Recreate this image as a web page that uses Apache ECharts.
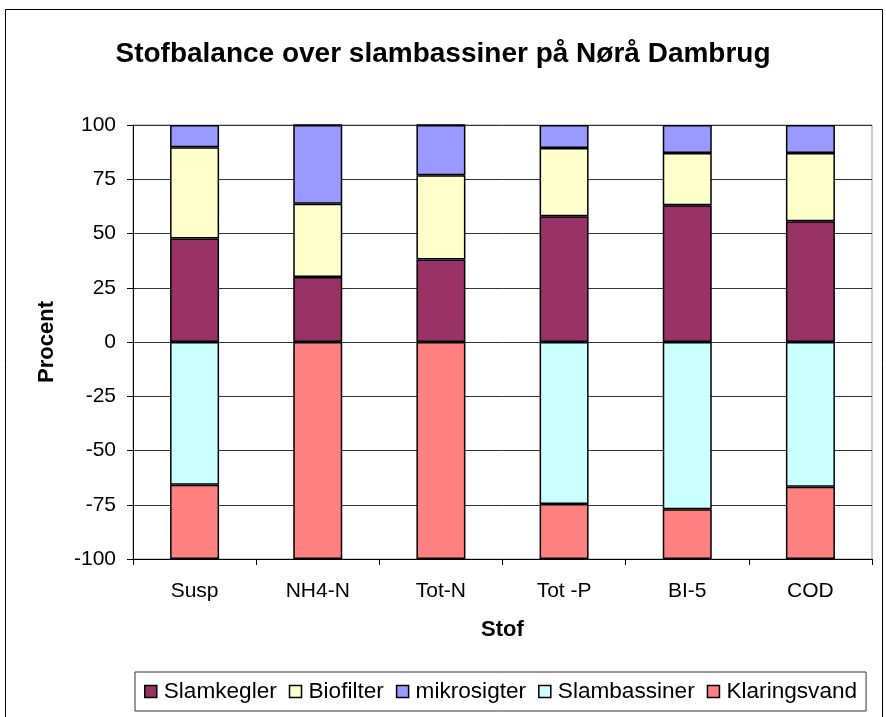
<!DOCTYPE html>
<html>
<head>
<meta charset="utf-8">
<script src="https://cdn.jsdelivr.net/npm/echarts@6/dist/echarts.min.js"></script>
<style>
  html, body { margin: 0; padding: 0; background: #fff; }
  #chart { width: 886px; height: 717px; }
</style>
</head>
<body>
<div id="chart"></div>
<script>
  // data
  const categories = ['Susp', 'NH4-N', 'Tot-N', 'Tot -P', 'BI-5', 'COD'];
  const slamkegler = [47.7, 30.0, 38.0, 58.0, 63.0, 55.6];
  const biofilter = [42.0, 33.7, 38.8, 31.4, 24.1, 31.5];
  const mikrosigter = [10.3, 36.3, 23.2, 10.6, 12.9, 12.9];
  const slambassiner = [-65.8, 0, 0, -74.7, -77.1, -66.7];
  const klaringsvand = [-34.2, -100, -100, -25.3, -22.9, -33.3];
  const yTicks = [-100, -75, -50, -25, 0, 25, 50, 75, 100];

  const font = 'Liberation Sans, Arial, sans-serif';

  function bar(name, data, color) {
    return {
      name: name,
      type: 'bar',
      stack: 'tot',
      barWidth: 49,
      data: data,
      itemStyle: { color: color, borderColor: '#000', borderWidth: 1.5 },
    };
  }

  const chart = echarts.init(document.getElementById('chart'));
  chart.setOption({
    animation: false,
    backgroundColor: '#fff',
    textStyle: { fontFamily: font, color: '#000' },
    graphic: [
      {
        type: 'rect',
        shape: { x: 5.5, y: 9.5, width: 877, height: 730 },
        style: { fill: 'none', stroke: '#000', lineWidth: 1 },
        silent: true,
      },
    ],
    title: {
      text: 'Stofbalance over slambassiner på Nørå Dambrug',
      left: 'center',
      top: 35,
      textStyle: { fontFamily: font, fontSize: 28, fontWeight: 'bold', color: '#000' },
    },
    grid: {
      left: 133,
      right: 14,
      top: 125,
      bottom: 158,
      show: true,
      borderColor: '#999',
      borderWidth: 1,
      containLabel: false,
    },
    legend: {
      left: 135,
      top: 672,
      padding: [8, 9, 8, 9],
      itemGap: 12,
      itemWidth: 12,
      itemHeight: 12,
      borderColor: '#333',
      borderWidth: 1,
      icon: 'rect',
      textStyle: { fontFamily: font, fontSize: 22.6, color: '#000', padding: [0, 0, 0, 2] },
      itemStyle: { borderColor: '#000', borderWidth: 1.5 },
      data: ['Slamkegler', 'Biofilter', 'mikrosigter', 'Slambassiner', 'Klaringsvand'],
    },
    xAxis: {
      type: 'category',
      data: categories,
      name: 'Stof',
      nameLocation: 'middle',
      nameGap: 60,
      nameTextStyle: { fontFamily: font, fontSize: 22, fontWeight: 'bold', color: '#000' },
      position: 'bottom',
      axisLine: { onZero: false, lineStyle: { color: '#000', width: 1 } },
      axisTick: { show: true, length: 6, lineStyle: { color: '#000' } },
      axisLabel: { fontFamily: font, fontSize: 21, color: '#000', margin: 22 },
      splitLine: { show: false },
    },
    yAxis: {
      type: 'value',
      min: yTicks[0],
      max: yTicks[yTicks.length - 1],
      interval: 25,
      name: 'Procent',
      nameLocation: 'middle',
      nameRotate: 90,
      nameGap: 75,
      nameTextStyle: { fontFamily: font, fontSize: 22, fontWeight: 'bold', color: '#000' },
      axisLine: { show: true, lineStyle: { color: '#000', width: 1 } },
      axisTick: { show: true, length: 6, lineStyle: { color: '#000' } },
      axisLabel: { fontFamily: font, fontSize: 21, color: '#000', margin: 17 },
      splitLine: { show: true, lineStyle: { color: '#333', width: 1 } },
    },
    series: [
      bar('Slamkegler', slamkegler, '#993366'),
      bar('Biofilter', biofilter, '#FFFFCC'),
      bar('mikrosigter', mikrosigter, '#9999FF'),
      bar('Slambassiner', slambassiner, '#CCFFFF'),
      bar('Klaringsvand', klaringsvand, '#FF8080'),
    ],
  });
</script>
</body>
</html>
